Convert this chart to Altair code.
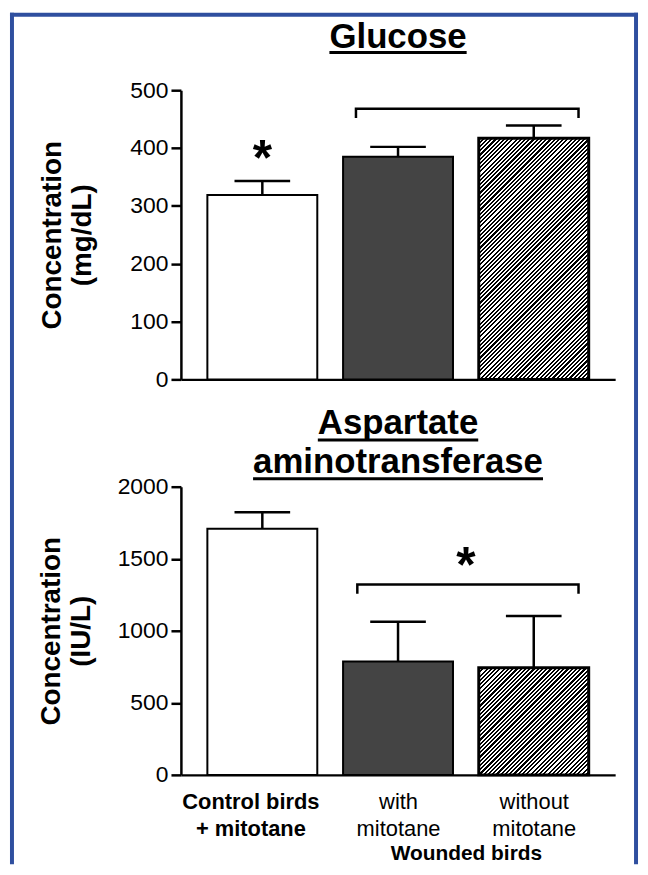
import json
import altair as alt
import pandas as pd

# ---------------- data ----------------
groups = ["Control birds + mitotane", "Wounded with mitotane", "Wounded without mitotane"]
positions = [0, 1, 2]
x_label_lines = [["Control birds", "+ mitotane"], ["with", "mitotane"], ["without", "mitotane"]]
x_group_title = "Wounded birds"

glucose_title = ["Glucose"]
glucose_ytitle = ["Concentration", "(mg/dL)"]
glucose_mean = [319, 385, 417]
glucose_sem = [24, 17, 22]
glucose_ticks = [0, 100, 200, 300, 400, 500]
glucose_bracket_x = [0.69, 0.69, 2.33, 2.33]
glucose_bracket_y = [452, 468, 468, 452]
glucose_star_x = [0]
glucose_star_y = [395]

ast_title = ["Aspartate", "aminotransferase"]
ast_ytitle = ["Concentration", "(IU/L)"]
ast_mean = [1708, 786, 743]
ast_sem = [115, 276, 360]
ast_ticks = [0, 500, 1000, 1500, 2000]
ast_bracket_x = [0.70, 0.70, 2.33, 2.33]
ast_bracket_y = [1257, 1322, 1322, 1257]
ast_star_x = [1.5]
ast_star_y = [1505]

# ---------------- style ----------------
FONT = "Liberation Sans"
W = 437
X_DOMAIN = [-0.6, 2.6]
BAR_HALF = 0.405
BORDER = "#2f4f9f"
TITLE_SIZE = 35
LINE = 2.5


def hatch_fill(w_px, h_px, period=3.0, ink=0.5):
    a, b = 1.0 / h_px, 1.0 / w_px
    s = (a + b) / (a * a + b * b)
    n = max(1, round((w_px + h_px) / (2 ** 0.5) / period))
    stops = []
    for i in range(n):
        o0, o1, o2 = i / n, (i + ink) / n, (i + 1) / n
        stops += [
            {"offset": o0, "color": "black"},
            {"offset": o1, "color": "black"},
            {"offset": o1, "color": "white"},
            {"offset": o2, "color": "white"},
        ]
    return {"gradient": "linear", "x1": 0, "y1": 0, "x2": s * a, "y2": s * b, "stops": stops}


def text_width(s, size):
    # approximate Arial-bold advance widths
    w = {"G": .778, "l": .278, "u": .611, "c": .556, "o": .611, "s": .556, "e": .556,
         "A": .722, "p": .611, "a": .556, "r": .389, "t": .333, "m": .889, "i": .278,
         "n": .611, "f": .333}
    return sum(w.get(ch, .556) for ch in s) * size


def panel(mean, sem, ticks, H, ytitle, title_lines, title_y, title_lh, underline_gap,
          bracket_x, bracket_y, star_x, star_y, bottom_axis, title_padding, border):
    df = pd.DataFrame({"group": groups, "pos": positions, "mean": mean,
                       "upper": [m + s for m, s in zip(mean, sem)]})
    xscale = alt.Scale(domain=X_DOMAIN, nice=False, zero=False)
    yscale = alt.Scale(domain=[0, ticks[-1]], nice=False)

    yaxis = alt.Axis(values=ticks, format="d", title=ytitle, grid=False, domainColor="black",
                     domainWidth=LINE, tickColor="black", tickWidth=LINE, tickSize=10,
                     labelFont=FONT, labelFontSize=23, labelColor="black", labelPadding=3,
                     titleFont=FONT, titleFontSize=28, titleFontWeight="bold", titleColor="black",
                     titleLineHeight=30, titlePadding=title_padding)
    if bottom_axis:
        expr = ""
        for p, lines in zip(positions[:-1], x_label_lines[:-1]):
            expr += f"datum.value == {p} ? {json.dumps(lines)} : "
        expr += json.dumps(x_label_lines[-1])
        step = W / (X_DOMAIN[1] - X_DOMAIN[0])
        xaxis = alt.Axis(values=positions, labelExpr=expr, ticks=False, tickSize=0,
                         labelFontWeight={"condition": {"test": "datum.value == 0", "value": "bold"}, "value": "normal"},
                         labelOffset={"condition": {"test": "datum.value == 0", "value": -12}, "value": 0},
                         labelPadding=34, labelBaseline="alphabetic", labelLineHeight=27,
                         labelFont=FONT, labelFontSize=22, labelColor="black", labelFlush=False,
                         labelOverlap=False, labelBound=False, grid=False,
                         domainColor="black", domainWidth=LINE,
                         title=x_group_title, titleX=(1.5 - X_DOMAIN[0]) * step, titleY=85,
                         titleBaseline="alphabetic", titleAlign="center", titleFont=FONT,
                         titleFontSize=21, titleFontWeight="bold", titleColor="black")
    else:
        xaxis = alt.Axis(labels=False, ticks=False, title=None, grid=False,
                         domainColor="black", domainWidth=LINE)

    def X(field):
        return alt.X(field, scale=xscale, axis=xaxis)

    def Y(field):
        return alt.Y(field, scale=yscale, axis=yaxis)

    base = alt.Chart(df).transform_calculate(x0=f"datum.pos - {BAR_HALF}", x1=f"datum.pos + {BAR_HALF}")
    bar_w = 2 * BAR_HALF * W / (X_DOMAIN[1] - X_DOMAIN[0])
    styles = [
        dict(fill="white", stroke="black", strokeWidth=2),
        dict(fill="#444444", stroke="black", strokeWidth=2),
        dict(fill=hatch_fill(bar_w, mean[2] / ticks[-1] * H), stroke="black", strokeWidth=3),
    ]
    layers = []
    for i, st in enumerate(styles):
        layers.append(
            base.transform_filter(f"datum.pos == {positions[i]}").mark_bar(**st).encode(
                x=X("x0:Q"), x2="x1:Q", y=Y("mean:Q"), y2=alt.datum(0),
            )
        )
    layers.append(alt.Chart(df).mark_rule(color="black", strokeWidth=LINE).encode(
        x=X("pos:Q"), y=Y("mean:Q"), y2="upper:Q"))
    layers.append(alt.Chart(df).mark_tick(orient="horizontal", size=56, thickness=LINE,
                                          color="black", opacity=1).encode(
        x=X("pos:Q"), y=Y("upper:Q")))
    bdf = pd.DataFrame({"bx": bracket_x, "by": bracket_y, "i": list(range(len(bracket_x)))})
    layers.append(alt.Chart(bdf).mark_line(color="black", strokeWidth=LINE, strokeJoin="miter").encode(
        x=X("bx:Q"), y=Y("by:Q"), order="i:Q"))
    sdf = pd.DataFrame({"sx": star_x, "sy": star_y})
    layers.append(alt.Chart(sdf).mark_text(text="*", fontSize=50, fontWeight="bold", font=FONT,
                                           baseline="alphabetic", dy=24, color="black").encode(
        x=X("sx:Q"), y=Y("sy:Q")))
    one = pd.DataFrame({"k": [0]})
    layers.append(alt.Chart(one).mark_text(
        text=title_lines if len(title_lines) > 1 else title_lines[0], fontSize=TITLE_SIZE,
        fontWeight="bold", font=FONT, align="center", baseline="alphabetic", lineHeight=title_lh,
        color="black").encode(x=alt.value(W / 2), y=alt.value(title_y)))
    for j, line in enumerate(title_lines):
        tw = text_width(line, TITLE_SIZE)
        yy = title_y + j * title_lh + underline_gap
        layers.append(alt.Chart(one).mark_rule(color="black", strokeWidth=3).encode(
            x=alt.value(W / 2 - tw / 2), x2=alt.value(W / 2 + tw / 2), y=alt.value(yy)))
    if border:
        left, right, top, bottom = -170, 458, -76, 779
        for enc in (dict(x=alt.value(left), y=alt.value(top - 2), y2=alt.value(bottom)),
                    dict(x=alt.value(right), y=alt.value(top - 2), y2=alt.value(bottom)),
                    dict(x=alt.value(left - 2), x2=alt.value(right + 2), y=alt.value(top))):
            layers.append(alt.Chart(one).mark_rule(color=BORDER, strokeWidth=4).encode(**enc))
    return alt.layer(*layers).properties(width=W, height=H)


top = panel(glucose_mean, glucose_sem, glucose_ticks, 291, glucose_ytitle, glucose_title, -42, 40, 4,
            glucose_bracket_x, glucose_bracket_y, glucose_star_x, glucose_star_y, False, 34, True)
bottom = panel(ast_mean, ast_sem, ast_ticks, 290, ast_ytitle, ast_title, -53, 39, 6,
               ast_bracket_x, ast_bracket_y, ast_star_x, ast_star_y, True, 22, False)

chart = alt.vconcat(top, bottom, spacing=108, bounds="flush").properties(
    padding={"left": 0, "top": 0, "right": 0, "bottom": 0}
).configure_view(stroke=None)

chart.save("out.html", embed_options={"renderer": "svg", "actions": False})
